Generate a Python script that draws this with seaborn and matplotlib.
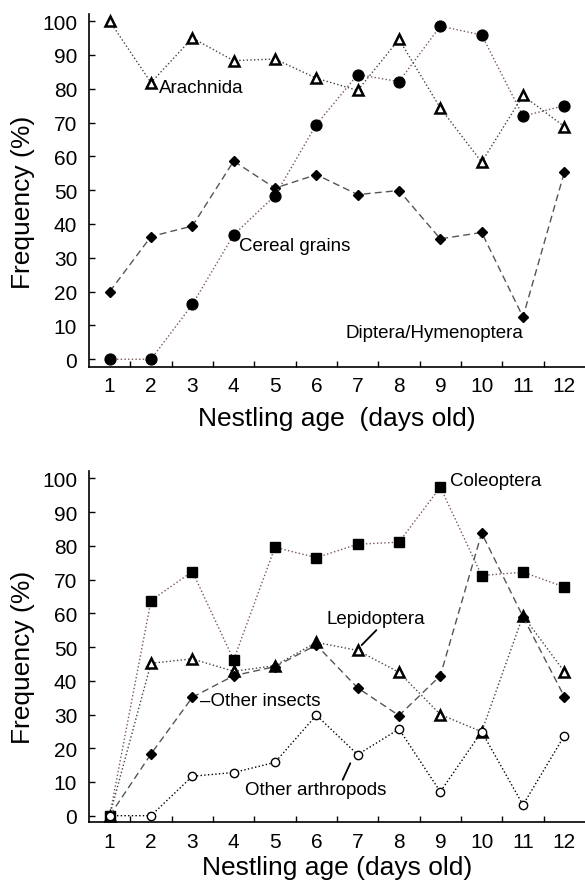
import numpy as np
import matplotlib
matplotlib.use("Agg")
import matplotlib.pyplot as plt
import seaborn as sns

# data (frequency in %)
days = list(range(1, 13))

arachnida = [100, 81.8, 95.0, 88.3, 88.8, 83.1, 79.5, 94.6, 74.3, 58.3, 78.0, 68.8]
cereal = [0, 0, 16.2, 36.8, 48.4, 69.4, 84.2, 82.1, 98.5, 95.9, 71.9, 75.0]
diptera = [20.0, 36.3, 39.4, 58.6, 50.6, 54.6, 48.7, 49.9, 35.6, 37.5, 12.5, 55.3]

coleoptera = [0, 63.8, 72.4, 46.2, 79.6, 76.5, 80.5, 81.1, 97.4, 71.2, 72.2, 67.8]
lepidoptera = [0, 45.2, 46.5, 42.8, 44.5, 51.4, 49.0, 42.5, 30.0, 24.9, 59.3, 42.7]
other_insects = [0, 18.3, 35.1, 41.5, 44.2, 50.6, 37.9, 29.7, 41.5, 83.8, 59.0, 35.3]
other_arthropods = [0, 0, 11.7, 12.8, 15.8, 29.8, 18.1, 25.7, 7.1, 24.9, 3.2, 23.7]

sns.set_style("ticks")
plt.rcParams['font.family'] = ['Liberation Sans', 'DejaVu Sans']
plt.rcParams['text.color'] = 'black'
plt.rcParams['xtick.color'] = 'black'
plt.rcParams['ytick.color'] = 'black'
plt.rcParams['axes.labelcolor'] = 'black'

fig = plt.figure(figsize=(5.85, 8.87), dpi=100)
W, H = 585.0, 887.0
ax1 = fig.add_axes([89 / W, 1 - 367.7 / H, 496 / W, (367.7 - 15) / H])
ax2 = fig.add_axes([89 / W, 1 - 823.3 / H, 496 / W, (823.3 - 472) / H])

brown = '#7d5656'
grey = '#444444'
dash = (0, (5, 3))


def series(ax, vals, marker, ms, ls, color, face='black', edge='black', mew=1.0):
    sns.lineplot(x=days, y=vals, ax=ax, color=color, linestyle=ls, linewidth=1.0,
                 marker=marker, markersize=ms, markerfacecolor=face,
                 markeredgecolor=edge, markeredgewidth=mew)


# top panel
series(ax1, diptera, 'D', 5.2, dash, '#555555')
series(ax1, cereal, 'o', 7.8, ':', brown)
series(ax1, arachnida, '^', 7.2, ':', grey, face='white', mew=1.8)

# bottom panel
series(ax2, coleoptera, 's', 7.6, ':', brown)
series(ax2, lepidoptera, '^', 7.2, ':', grey, face='white', mew=1.8)
series(ax2, other_insects, 'D', 5.2, dash, '#555555')
series(ax2, other_arthropods, 'o', 6.0, ':', 'black', face='white', mew=1.0)

for ax, lo, hi in [(ax1, -2.2, 102.1), (ax2, -1.96, 102.2)]:
    ax.set_xlim(0.5, 12.5)
    ax.set_ylim(lo, hi)
    ax.set_xticks(days)
    ax.set_xticks(np.arange(1.5, 12, 1), minor=True)
    ax.set_yticks(range(0, 101, 10))
    ax.tick_params(axis='x', which='major', length=0, pad=7, labelsize=15)
    ax.tick_params(axis='x', which='minor', direction='in', length=4.3, width=1.0)
    ax.tick_params(axis='y', direction='in', length=4.3, width=1.0, pad=8.5, labelsize=15)
    sns.despine(ax=ax)
    for s in ['left', 'bottom']:
        ax.spines[s].set_linewidth(1.2)
        ax.spines[s].set_color('black')
    ax.set_xlabel('')
    ax.set_ylabel('')

fs = 13.5
ax1.text(2.19, 80.3, 'Arachnida', ha='left', va='center', fontsize=fs)
ax1.text(4.13, 33.6, 'Cereal grains', ha='left', va='center', fontsize=fs)
ax1.text(6.71, 8.0, 'Diptera/Hymenoptera', ha='left', va='center', fontsize=fs)

ax2.text(9.23, 99.4, 'Coleoptera', ha='left', va='center', fontsize=fs)
ax2.text(6.25, 58.4, 'Lepidoptera', ha='left', va='center', fontsize=fs)
ax2.text(3.18, 34.3, '\u2013Other insects', ha='left', va='center', fontsize=fs)
ax2.text(4.27, 7.7, 'Other arthropods', ha='left', va='center', fontsize=fs)
ax2.annotate('', xy=(7.05, 50.0), xytext=(7.5, 55.6),
             arrowprops=dict(arrowstyle='-', lw=1.3, color='black'))
ax2.annotate('', xy=(6.85, 16.3), xytext=(6.61, 9.9),
             arrowprops=dict(arrowstyle='-', lw=1.3, color='black'))

fig.text(23 / W, 1 - 202 / H, 'Frequency (%)', rotation=90, ha='center', va='center', fontsize=19)
fig.text(23 / W, 1 - 657 / H, 'Frequency (%)', rotation=90, ha='center', va='center', fontsize=19)
fig.text(337 / W, 1 - 407 / H, 'Nestling age  (days old)', ha='center', va='top', fontsize=19)
fig.text(337 / W, 1 - 856 / H, 'Nestling age (days old)', ha='center', va='top', fontsize=19)

fig.savefig('out.png', dpi=100)
